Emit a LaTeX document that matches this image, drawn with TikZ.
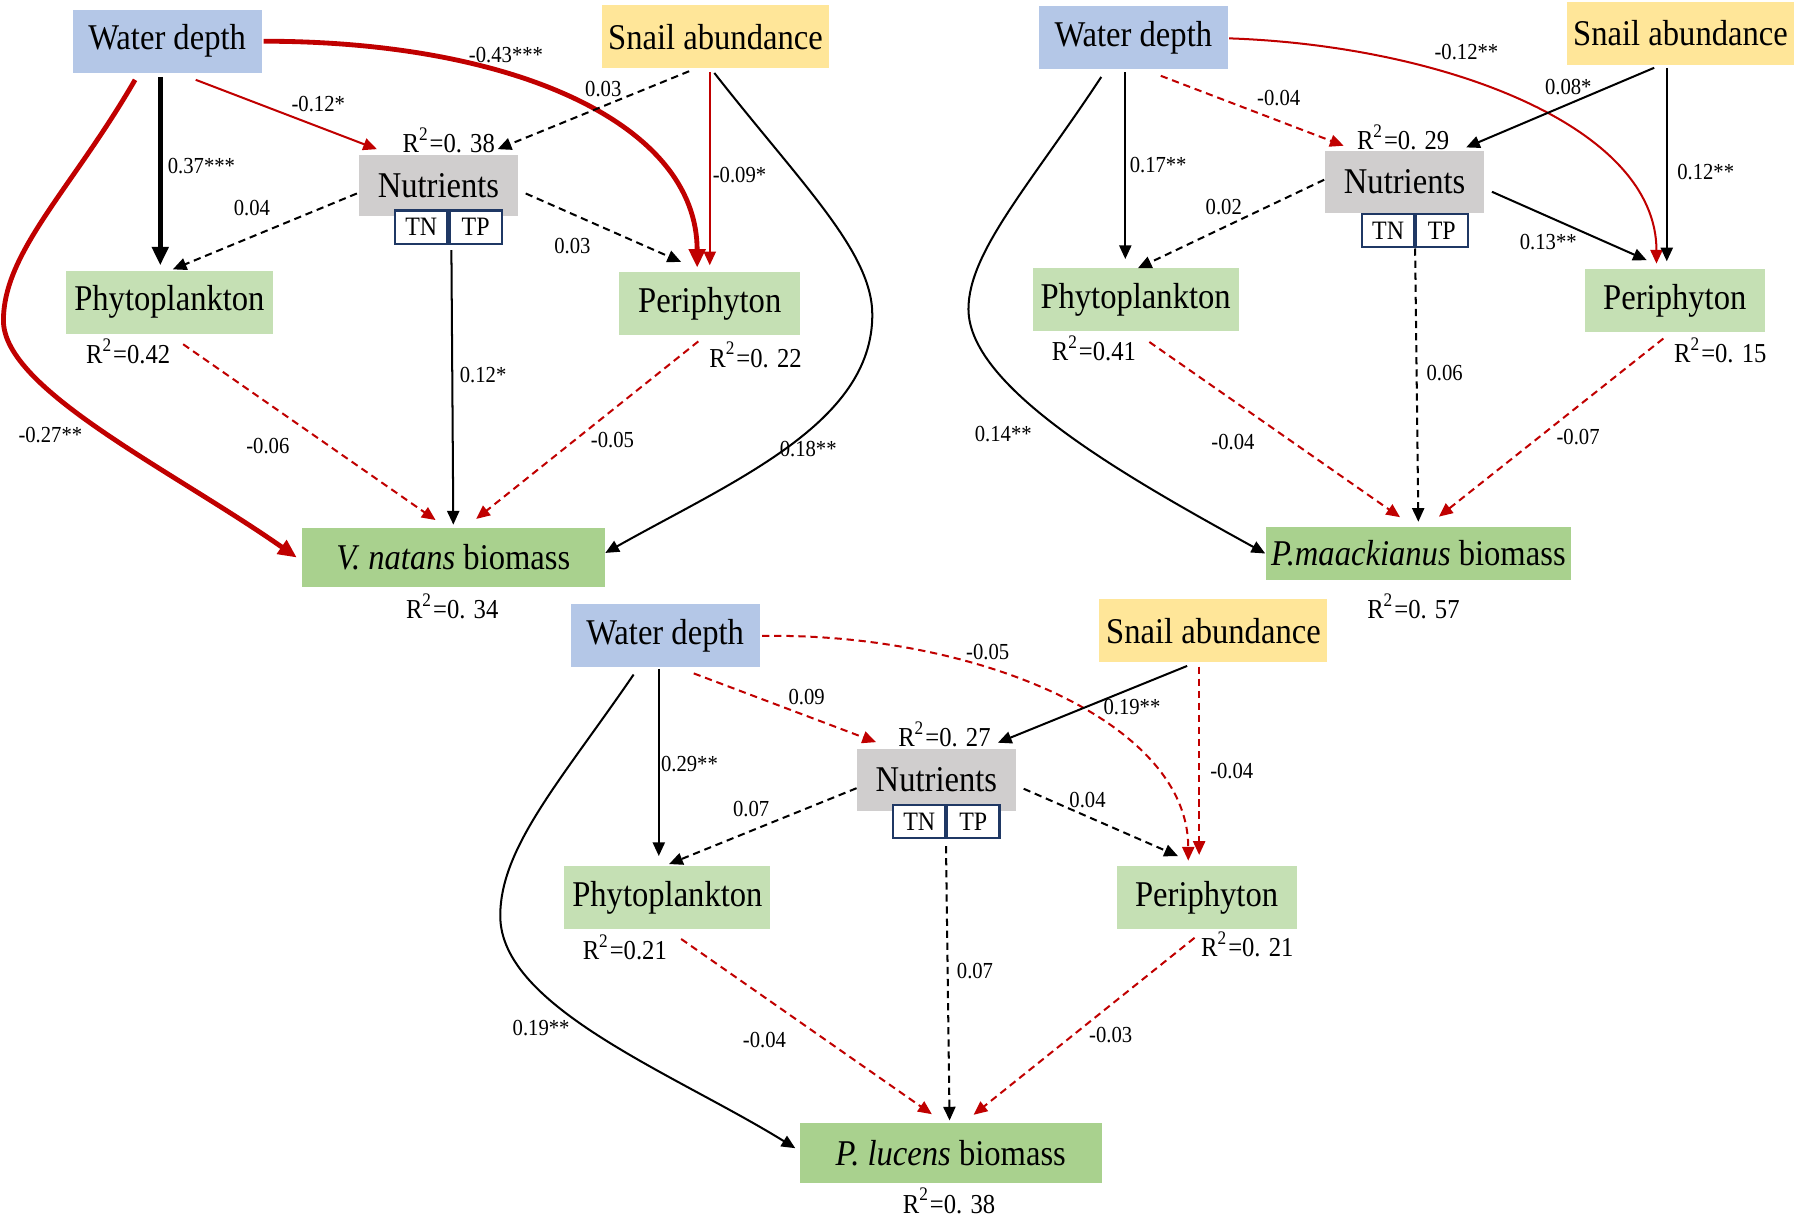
\documentclass[tikz,border=0pt]{standalone}
\usepackage{fontspec}
\setmainfont{Liberation Serif}[FakeStretch=0.9]
\usetikzlibrary{arrows.meta}

\definecolor{depthblue}{HTML}{B4C7E7}
\definecolor{snailyellow}{HTML}{FFE699}
\definecolor{nutgray}{HTML}{D0CECE}
\definecolor{alggreen}{HTML}{C5E0B4}
\definecolor{massgreen}{HTML}{A9D18E}
\definecolor{effred}{HTML}{C00000}
\definecolor{subnavy}{HTML}{1F3864}

\begin{document}
\begin{tikzpicture}[
x=0.01cm, y=-0.01cm,
font=\fontsize{9}{10}\selectfont,
box/.style={inner sep=0pt, minimum height=0.55cm},
depthbox/.style={box, fill=depthblue, minimum width=1.65cm},
snailbox/.style={box, fill=snailyellow, minimum width=1.99cm},
nutbox/.style={box, fill=nutgray, minimum width=1.39cm, minimum height=0.54cm},
subbox/.style={inner sep=0pt, draw=subnavy, line width=0.6pt, fill=white, minimum width=0.455cm, minimum height=0.29cm, font=\fontsize{6.6}{7}\selectfont},
phytobox/.style={box, fill=alggreen, minimum width=1.80cm},
peribox/.style={box, fill=alggreen, minimum width=1.57cm},
massbox/.style={box, fill=massgreen, minimum width=2.64cm, minimum height=0.52cm},
coef/.style={inner sep=0pt, font=\fontsize{5.7}{6}\selectfont},
rsq/.style={inner sep=0pt, font=\fontsize{6.8}{7}\selectfont},
blk/.style={line width=0.5pt, ->, >={Triangle[length=3.4pt,width=3pt]}},
redl/.style={blk, draw=effred},
blkdash/.style={blk, dash pattern=on 1.8pt off 1.2pt},
reddash/.style={redl, dash pattern=on 1.8pt off 1.2pt},
heavy/.style={line width=1.2pt, >={Triangle[length=4.6pt,width=4pt]}}
]
    \useasboundingbox (0,0) rectangle (1568,1060);

    % V. natans
    \node[depthbox] (wdA) at (146,36) {Water depth};
    \node[snailbox] (snA) at (625,32) {Snail abundance};
    \node[nutbox] (nuA) at (383,162) {Nutrients};
    \node[subbox] (tnA) at (368,198.5) {TN};
    \node[subbox] (tpA) at (415.5,198.5) {TP};
    \node[phytobox] (phA) at (148,264) {Phytoplankton};
    \node[peribox, minimum width=1.58cm] (peA) at (620,265) {Periphyton};
    \node[massbox] (bmA) at (396,487) {\textit{V. natans} biomass};

    \node[rsq] (rNuA) at (392,122.6) {R\textsuperscript{2}=0. 38};
    \node[rsq] (rPhA) at (112,307) {R\textsuperscript{2}=0.42};
    \node[rsq] (rPeA) at (660,310) {R\textsuperscript{2}=0. 22};
    \node[rsq] (rBmA) at (395,530) {R\textsuperscript{2}=0. 34};

    \draw[blk, heavy] ([shift={(-6,3)}]wdA.south) -- ([shift={(-8,-4)}]phA.north);
    \draw[redl] ([shift={(25,5.5)}]wdA.south) -- ([shift={(16.5,-4)}]nuA.north west);
    \draw[redl, heavy] ([shift={(1,0)}]wdA.east) .. controls +(220,0) and +(0,-125) .. ([shift={(-11,-3)}]peA.north);
    \draw[redl, heavy] ([shift={(-28,5.5)}]wdA.south) .. controls +(-55,95) and +(0,-60) .. (3,280)
        .. controls +(0,60) and +(-110,-77) .. ([shift={(-4,0)}]bmA.west);
    \draw[blkdash] ([shift={(-23,2)}]snA.south) -- ([shift={(-18.5,-4)}]nuA.north east);
    \draw[redl] ([shift={(-5,2.5)}]snA.south) -- ([shift={(0,-5)}]peA.north);
    \draw[blk] ([shift={(-1,3.5)}]snA.south) .. controls +(76,97) and +(0,-55) .. (762,275)
        .. controls +(0,95) and +(112,-63) .. ([shift={(0,-4)}]bmA.east);
    \draw[blkdash] ([shift={(-1,7)}]nuA.west) -- ([shift={(3,-0.5)}]phA.north);
    \draw[blkdash] ([shift={(6,7)}]nuA.east) -- ([shift={(-25,-8)}]peA.north);
    \draw[blk] ([shift={(2.5,4.5)}]tnA.south east) -- ([shift={(0,-2)}]bmA.north);
    \draw[reddash] ([shift={(12,8.5)}]phA.south) -- ([shift={(-15.5,-6)}]bmA.north);
    \draw[reddash] ([shift={(-10,5)}]peA.south) -- ([shift={(20,-7)}]bmA.north);

    \node[coef] (cA1) at (176,145) {0.37***};
    \node[coef] (cA2) at (278,90.5) {-0.12*};
    \node[coef] (cA3) at (442,48) {-0.43***};
    \node[coef] (cA4) at (44,380) {-0.27**};
    \node[coef] (cA5) at (527,78) {0.03};
    \node[coef] (cA6) at (646,153) {-0.09*};
    \node[coef] (cA7) at (706,392) {0.18**};
    \node[coef] (cA8) at (220,182) {0.04};
    \node[coef] (cA9) at (500,215) {0.03};
    \node[coef] (cA10) at (422,328) {0.12*};
    \node[coef] (cA11) at (234,390) {-0.06};
    \node[coef] (cA12) at (535,384) {-0.05};

    % P. maackianus
    \node[depthbox] (wdB) at (990,33) {Water depth};
    \node[snailbox] (snB) at (1468,29) {Snail abundance};
    \node[nutbox] (nuB) at (1227,159) {Nutrients};
    \node[subbox, minimum width=0.46cm] (tnB) at (1212.6,201.5) {TN};
    \node[subbox] (tpB) at (1259.5,201.5) {TP};
    \node[phytobox] (phB) at (992,261.5) {Phytoplankton};
    \node[peribox] (peB) at (1463,262.5) {Periphyton};
    \node[massbox, minimum width=2.66cm, minimum height=0.46cm] (bmB) at (1239,483.5) {\textit{P.maackianus} biomass};

    \node[rsq] (rNuB) at (1225.7,120) {R\textsuperscript{2}=0. 29};
    \node[rsq] (rPhB) at (955.6,304.6) {R\textsuperscript{2}=0.41};
    \node[rsq] (rPeB) at (1502.8,306) {R\textsuperscript{2}=0. 15};
    \node[rsq] (rBmB) at (1234.7,530) {R\textsuperscript{2}=0. 57};

    \draw[blk] ([shift={(-7,2)}]wdB.south) -- ([shift={(-9,-7)}]phB.north);
    \draw[reddash] ([shift={(24,5)}]wdB.south) -- ([shift={(17,-4)}]nuB.north west);
    \draw[redl] ([shift={(0.5,0.5)}]wdB.east) .. controls +(187,6.5) and +(0,-120) .. ([shift={(-16,-4)}]peB.north);
    \draw[blk] ([shift={(-28,6)}]wdB.south) .. controls +(-62,94) and +(0,-50) .. (846,270)
        .. controls +(0,70) and +(-116,-64) .. (bmB.west);
    \draw[blk] ([shift={(-23,2)}]snB.south) -- ([shift={(-16.5,-2.5)}]nuB.north east);
    \draw[blk] ([shift={(-12,2)}]snB.south) -- ([shift={(-7,-6)}]peB.north);
    \draw[blkdash] ([shift={(0,-2)}]nuB.west) -- ([shift={(2,1)}]phB.north);
    \draw[blk] ([shift={(6,8.5)}]nuB.east) -- ([shift={(-24.5,-7)}]peB.north);
    \draw[blkdash] ([shift={(0.5,0)}]tpB.south west) -- ([shift={(0,-4)}]bmB.north);
    \draw[reddash] ([shift={(12,9)}]phB.south) -- ([shift={(-16,-8)}]bmB.north);
    \draw[reddash] ([shift={(-10,5)}]peB.south) -- ([shift={(18,-8.5)}]bmB.north);

    \node[coef] (cB1) at (1011.7,144) {0.17**};
    \node[coef] (cB2) at (1117,86) {-0.04};
    \node[coef] (cB3) at (1281,45.6) {-0.12**};
    \node[coef] (cB4) at (876.4,379) {0.14**};
    \node[coef] (cB5) at (1370,76) {0.08*};
    \node[coef] (cB6) at (1490,150) {0.12**};
    \node[coef] (cB7) at (1069,181) {0.02};
    \node[coef] (cB8) at (1352.5,211) {0.13**};
    \node[coef] (cB9) at (1262,326) {0.06};
    \node[coef] (cB10) at (1077,386) {-0.04};
    \node[coef] (cB11) at (1378.5,382) {-0.07};

    % P. lucens
    \node[depthbox] (wdC) at (581,555) {Water depth};
    \node[snailbox] (snC) at (1060,551) {Snail abundance};
    \node[nutbox] (nuC) at (818,681) {Nutrients};
    \node[subbox] (tnC) at (803,717.5) {TN};
    \node[subbox] (tpC) at (850.2,717.5) {TP};
    \node[phytobox] (phC) at (583,784) {Phytoplankton};
    \node[peribox] (peC) at (1054,784) {Periphyton};
    \node[massbox] (bmC) at (830.5,1007) {\textit{P. lucens} biomass};

    \node[rsq] (rNuC) at (825,641.3) {R\textsuperscript{2}=0. 27};
    \node[rsq] (rPhC) at (545.8,827.3) {R\textsuperscript{2}=0.21};
    \node[rsq] (rPeC) at (1089.6,824.9) {R\textsuperscript{2}=0. 21};
    \node[rsq] (rBmC) at (829,1049) {R\textsuperscript{2}=0. 38};

    \draw[blk] ([shift={(-5.5,1)}]wdC.south) -- ([shift={(-7.5,-8)}]phC.north);
    \draw[reddash] ([shift={(25,5)}]wdC.south) -- ([shift={(17.5,-5)}]nuC.north west);
    \draw[reddash] ([shift={(1.5,0.5)}]wdC.east) .. controls +(185,-3) and +(0,-122) .. ([shift={(-16,-4)}]peC.north);
    \draw[blk] ([shift={(-27.5,6)}]wdC.south) .. controls +(-63,92) and +(0,-60) .. (437,800)
        .. controls +(0,80) and +(-105,-65) .. ([shift={(-3,-4)}]bmC.west);
    \draw[blk] ([shift={(-23,2.5)}]snC.south) -- ([shift={(-16.5,-4.5)}]nuC.north east);
    \draw[reddash] ([shift={(-12.5,3)}]snC.south) -- ([shift={(-6.5,-9)}]peC.north);
    \draw[blkdash] ([shift={(0.5,7.5)}]nuC.west) -- ([shift={(1.5,-1)}]phC.north);
    \draw[blkdash] ([shift={(6,8)}]nuC.east) -- ([shift={(-25,-8)}]peC.north);
    \draw[blkdash] ([shift={(0,6)}]tpC.south west) -- ([shift={(-1,-1.5)}]bmC.north);
    \draw[reddash] ([shift={(12,8)}]phC.south) -- ([shift={(-16.5,-7)}]bmC.north);
    \draw[reddash] ([shift={(-10.5,7)}]peC.south) -- ([shift={(20,-6.5)}]bmC.north);

    \node[coef] (cC1) at (602.3,667.3) {0.29**};
    \node[coef] (cC2) at (704.6,608.6) {0.09};
    \node[coef] (cC3) at (862.8,569.3) {-0.05};
    \node[coef] (cC4) at (472.7,897.9) {0.19**};
    \node[coef] (cC5) at (988.8,617.3) {0.19**};
    \node[coef] (cC6) at (1076,673.6) {-0.04};
    \node[coef] (cC7) at (656.2,706.6) {0.07};
    \node[coef] (cC8) at (950,699) {0.04};
    \node[coef] (cC9) at (851.7,848.5) {0.07};
    \node[coef] (cC10) at (667.8,908.3) {-0.04};
    \node[coef] (cC11) at (970.2,904.1) {-0.03};
\end{tikzpicture}
\end{document}
